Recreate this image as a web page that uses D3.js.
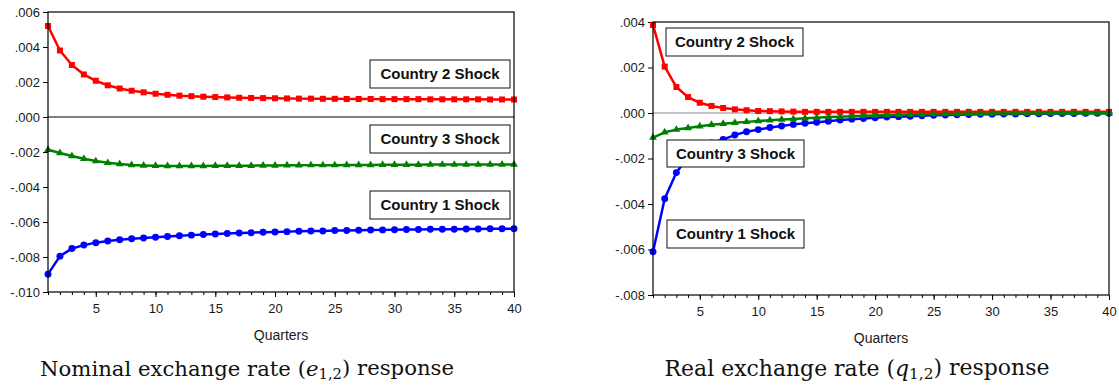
<!DOCTYPE html>
<html>
<head>
<meta charset="utf-8">
<script src="https://cdn.jsdelivr.net/npm/d3@7"></script>
<style>
  body { margin: 0; background: #fff; }
  svg { display: block; }
  .tick text { font-family: "Liberation Sans", Arial, sans-serif; font-size: 13px; fill: #1a1a1a; }
  .tick line { stroke: #000; }
</style>
</head>
<body>
<svg id="chart" width="1119" height="389"></svg>
<script>
// quarters after the shock
let quarters = [1, 2, 3, 4, 5, 6, 7, 8, 9, 10, 11, 12, 13, 14, 15, 16, 17, 18, 19, 20,
                21, 22, 23, 24, 25, 26, 27, 28, 29, 30, 31, 32, 33, 34, 35, 36, 37, 38, 39, 40];
let xTicks = [5, 10, 15, 20, 25, 30, 35, 40];

// nominal exchange rate e12 responses
let nominalC1 = [-.00898, -.00795, -.00752, -.00732, -.00718, -.00709, -.00702, -.00696, -.00691, -.00687,
                 -.00683, -.00679, -.00675, -.00672, -.00669, -.00666, -.00663, -.00661, -.00659, -.00657,
                 -.00655, -.00653, -.00652, -.00651, -.00649, -.00648, -.00647, -.00646, -.00645, -.00644,
                 -.00643, -.00643, -.00642, -.00641, -.00641, -.00640, -.00640, -.00639, -.00639, -.00638];
let nominalC2 = [.00520, .00380, .00297, .00243, .00207, .00181, .00163, .00150, .00141, .00133,
                 .00127, .00122, .00119, .00116, .00114, .00112, .00110, .00109, .00108, .00107,
                 .00106, .00105, .00105, .00104, .00104, .00103, .00103, .00103, .00102, .00102,
                 .00102, .00102, .00101, .00101, .00101, .00101, .00101, .00100, .00100, .00100];
let nominalC3 = [-.00187, -.00206, -.00223, -.00239, -.00252, -.00262, -.00269, -.00274, -.00277, -.00279,
                 -.00280, -.00280, -.00280, -.00280, -.00279, -.00279, -.00278, -.00278, -.00277, -.00277,
                 -.00276, -.00276, -.00275, -.00275, -.00275, -.00274, -.00274, -.00274, -.00273, -.00273,
                 -.00273, -.00273, -.00272, -.00272, -.00272, -.00272, -.00272, -.00271, -.00271, -.00271];
let nominalTicks = [.006, .004, .002, 0, -.002, -.004, -.006, -.008, -.010];

// real exchange rate q12 responses
let realC1 = [-.00610, -.00377, -.00262, -.00195, -.00155, -.00132, -.00116, -.00097, -.00082, -.00073,
              -.00064, -.00057, -.00050, -.00045, -.00041, -.00036, -.00031, -.00027, -.00024, -.00021,
              -.00018, -.00016, -.00014, -.00012, -.00010, -.00009, -.00008, -.00007, -.00006, -.00005,
              -.00004, -.00004, -.00003, -.00003, -.00002, -.00002, -.00002, -.00001, -.00001, -.00001];
let realC2 = [.00387, .00204, .00114, .00070, .00045, .00031, .00022, .00016, .00012, .00009,
              .00008, .00007, .00006, .00005, .00005, .00005, .00005, .00005, .00005, .00005,
              .00005, .00005, .00005, .00005, .00005, .00005, .00005, .00005, .00005, .00005,
              .00005, .00005, .00005, .00005, .00005, .00005, .00005, .00005, .00005, .00005];
let realC3 = [-.00108, -.00085, -.00073, -.00066, -.00058, -.00052, -.00047, -.00043, -.00039, -.00035,
              -.00032, -.00029, -.00026, -.00023, -.00021, -.00018, -.00016, -.00014, -.00012, -.00011,
              -.00009, -.00008, -.00007, -.00006, -.00005, -.00004, -.00004, -.00003, -.00003, -.00002,
              -.00002, -.00002, -.00002, -.00002, -.00001, -.00001, -.00001, -.00001, -.00001, -.00001];
let realTicks = [.004, .002, 0, -.002, -.004, -.006, -.008];

let shockLabels = ["Country 1 Shock", "Country 2 Shock", "Country 3 Shock"];

let svg = d3.select("#chart");
let sans = '"Liberation Sans", Arial, Helvetica, sans-serif';

// ".006", "-.002" style labels
let fmt = d => (d < 0 ? "-" : "") + Math.abs(d).toFixed(3).replace(/^0/, "");

function drawPanel(p) {
  let g = svg.append("g");
  let x = d3.scaleLinear().domain([1, 40]).range([p.left, p.right]);
  let y = d3.scaleLinear().domain(p.yDomain).range([p.bottom, p.top]);

  // zero line
  g.append("line")
    .attr("x1", p.left).attr("x2", p.right)
    .attr("y1", y(0)).attr("y2", y(0))
    .attr("stroke", p.zeroColor).attr("stroke-width", 1);

  // y axis
  g.append("g")
    .attr("transform", "translate(" + p.left + ",0)")
    .call(d3.axisLeft(y).tickValues(p.yTicks).tickFormat(fmt).tickSize(5).tickPadding(3))
    .call(a => a.select(".domain").remove());

  // x axis, minor then major ticks
  g.append("g")
    .attr("transform", "translate(0," + p.bottom + ")")
    .call(d3.axisBottom(x).tickValues(quarters).tickFormat("").tickSize(3))
    .call(a => a.select(".domain").remove());
  g.append("g")
    .attr("transform", "translate(0," + p.bottom + ")")
    .call(d3.axisBottom(x).tickValues(xTicks).tickFormat(d3.format("d")).tickSize(5).tickPadding(7))
    .call(a => a.select(".domain").remove());

  g.append("text")
    .attr("x", (p.left + p.right) / 2).attr("y", p.bottom + 48)
    .attr("text-anchor", "middle")
    .style("font-family", sans).style("font-size", "14px").attr("fill", "#1a1a1a")
    .text("Quarters");

  // series
  let line = d3.line().x((d, i) => x(quarters[i])).y(d => y(d));
  p.series.forEach(s => {
    g.append("path")
      .attr("d", line(s.values))
      .attr("fill", "none").attr("stroke", s.color)
      .attr("stroke-width", 2.5).attr("stroke-linejoin", "round");
    g.append("g").selectAll("path")
      .data(s.values)
      .join("path")
      .attr("transform", (d, i) => "translate(" + x(quarters[i]) + "," + y(d) + ")")
      .attr("d", d3.symbol().type(s.symbol).size(s.size))
      .attr("fill", s.color);
  });

  // frame
  g.append("rect")
    .attr("x", p.left).attr("y", p.top)
    .attr("width", p.right - p.left).attr("height", p.bottom - p.top)
    .attr("fill", "none").attr("stroke", "#000").attr("stroke-width", 1.2);

  // shock label boxes
  p.boxes.forEach(b => {
    g.append("rect")
      .attr("x", b.x).attr("y", b.y).attr("width", b.w).attr("height", b.h)
      .attr("fill", "#fff").attr("stroke", "#111").attr("stroke-width", 1);
    g.append("text")
      .attr("x", b.x + b.w / 2).attr("y", b.y + b.h / 2)
      .attr("dy", "0.36em").attr("text-anchor", "middle")
      .style("font-family", sans).style("font-size", "15px").style("font-weight", "bold")
      .attr("fill", "#111")
      .text(b.label);
  });

  // caption, sized to the width it has in the figure
  let cap = svg.append("text")
    .attr("x", p.capX).attr("y", 376)
    .attr("text-anchor", "middle")
    .style("font-family", '"DejaVu Serif", "Liberation Serif", serif')
    .style("font-size", "22px").attr("fill", "#111");
  cap.append("tspan").text(p.capPre + " (");
  cap.append("tspan").style("font-style", "italic").text(p.capVar);
  cap.append("tspan").attr("dy", "0.2em").style("font-size", "0.7em").text("1,2");
  cap.append("tspan").attr("dy", "-0.2em").text(") response");
  let len = cap.node().getComputedTextLength();
  cap.style("font-size", (22 * p.capW / len) + "px");
}

drawPanel({
  left: 48, right: 514, top: 12, bottom: 292,
  yDomain: [-.010, .006], yTicks: nominalTicks, zeroColor: "#000",
  series: [
    {values: nominalC1, color: "#0000ff", symbol: d3.symbolCircle, size: 38},
    {values: nominalC2, color: "#ff0000", symbol: d3.symbolSquare, size: 36},
    {values: nominalC3, color: "#008000", symbol: d3.symbolTriangle, size: 26}
  ],
  boxes: [
    {label: shockLabels[1], x: 370, y: 60, w: 140, h: 28},
    {label: shockLabels[2], x: 370, y: 125, w: 140, h: 28},
    {label: shockLabels[0], x: 370, y: 191, w: 140, h: 28}
  ],
  capX: 247, capW: 414, capPre: "Nominal exchange rate", capVar: "e"
});

drawPanel({
  left: 653, right: 1109, top: 22, bottom: 295,
  yDomain: [-.008, .004], yTicks: realTicks, zeroColor: "#888",
  series: [
    {values: realC1, color: "#0000ff", symbol: d3.symbolCircle, size: 38},
    {values: realC2, color: "#ff0000", symbol: d3.symbolSquare, size: 36},
    {values: realC3, color: "#008000", symbol: d3.symbolTriangle, size: 26}
  ],
  boxes: [
    {label: shockLabels[1], x: 666, y: 28, w: 137, h: 28},
    {label: shockLabels[2], x: 667, y: 140, w: 137, h: 27},
    {label: shockLabels[0], x: 667, y: 220, w: 137, h: 28}
  ],
  capX: 857, capW: 385, capPre: "Real exchange rate", capVar: "q"
});
</script>
</body>
</html>
